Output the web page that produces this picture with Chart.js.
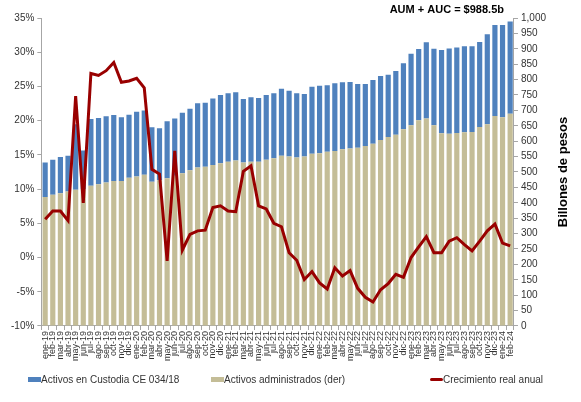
<!DOCTYPE html>
<html lang="es">
<head>
  <meta charset="UTF-8" />
  <title>AUM + AUC</title>
  <script src="https://cdn.jsdelivr.net/npm/chart.js"></script>
  <style>
    body {
      margin: 0;
      background: #fff;
      font-family: 'Liberation Sans', Arial, sans-serif;
    }
    .wrap {
      position: relative;
      width: 581px;
      height: 402px;
    }
    .legend {
      position: absolute;
      top: 374px;
      left: 0;
      width: 581px;
      font-size: 10px;
      color: #333;
    }
    .legend span {
      position: absolute;
      white-space: nowrap;
      line-height: 12px;
    }
    .legend i {
      display: inline-block;
      width: 13px;
      vertical-align: middle;
      margin-top: -2px;
    }
  </style>
</head>
<body>
  <div class="wrap">
    <canvas id="chart" width="581" height="402"></canvas>
    <div class="legend">
      <span style="left:28px"><i style="height:5px;background:#4F81BD"></i>Activos en Custodia CE 034/18</span>
      <span style="left:211px"><i style="height:5px;background:#C4BD97"></i>Activos administrados (der)</span>
      <span style="left:430px"><i style="height:3px;background:#990000;border-radius:2px"></i>Crecimiento real anual</span>
    </div>
  </div>

  <script>
    const labels = [
      'ene-19','feb-19','mar-19','abr-19','may-19','jun-19','jul-19','ago-19','sep-19','oct-19','nov-19','dic-19',
      'ene-20','feb-20','mar-20','abr-20','may-20','jun-20','jul-20','ago-20','sep-20','oct-20','nov-20','dic-20',
      'ene-21','feb-21','mar-21','abr-21','may-21','jun-21','jul-21','ago-21','sep-21','oct-21','nov-21','dic-21',
      'ene-22','feb-22','mar-22','abr-22','may-22','jun-22','jul-22','ago-22','sep-22','oct-22','nov-22','dic-22',
      'ene-23','feb-23','mar-23','abr-23','may-23','jun-23','jul-23','ago-23','sep-23','oct-23','nov-23','dic-23',
      'ene-24','feb-24'
    ];

    // billones de pesos
    const administrados = [
      419, 426, 431, 437, 442, 444, 455, 460, 466, 471, 471, 481,
      485, 491, 468, 473, 480, 488, 496, 506, 515, 517, 523, 528,
      533, 537, 531, 533, 533, 540, 545, 553, 550, 547, 550, 559,
      561, 566, 568, 574, 576, 579, 584, 592, 604, 614, 621, 639,
      652, 668, 674, 652, 626, 624, 627, 629, 630, 646, 655, 682,
      678, 689
    ];
    const custodia = [
      112, 114, 118, 116, 213, 126, 217, 215, 215, 214, 207, 205,
      211, 209, 177, 169, 185, 186, 196, 199, 208, 208, 216, 222,
      223, 222, 206, 210, 207, 210, 211, 217, 214, 209, 203, 218,
      219, 216, 220, 217, 216, 207, 202, 207, 208, 202, 207, 214,
      232, 231, 247, 248, 270, 277, 277, 279, 278, 276, 292, 295,
      299, 299.5
    ];
    // % real anual
    const crecimiento = [
      5.6, 6.8, 6.8, 5.4, 23.6, 8.0, 26.9, 26.6, 27.3, 28.5, 25.6, 25.8,
      26.2, 24.8, 12.9, 12.2, -0.5, 15.6, 1.1, 3.4, 3.9, 4.0, 7.3, 7.55,
      6.8, 6.7, 12.6, 13.4, 7.55, 7.1, 5.0, 4.5, 0.7, -0.4, -3.2, -2.05,
      -3.7, -4.6, -1.5, -2.7, -1.9, -4.5, -5.8, -6.5, -4.7, -3.8, -2.45, -2.9,
      0.0, 1.55, 3.05, 0.7, 0.7, 2.4, 2.9, 1.9, 0.97, 2.4, 3.9, 4.9,
      2.1, 1.7
    ];

    const TITLE = 'AUM + AUC = $988.5b';
    const RIGHT_TITLE = 'Billones de pesos';
    const FONT = "'Liberation Sans', Arial, sans-serif";
    const axisColor = '#a6a6a6';
    const textColor = '#333';

    // top note + right axis title (reads bottom to top, like the original)
    const textPlugin = {
      id: 'extraText',
      afterDraw(chart) {
        const ctx = chart.ctx;
        const area = chart.chartArea;
        ctx.save();
        ctx.font = 'bold 11px ' + FONT;
        ctx.fillStyle = '#000';
        ctx.textAlign = 'right';
        ctx.textBaseline = 'middle';
        ctx.fillText(TITLE, area.right - 10, 10);

        ctx.font = 'bold 13px ' + FONT;
        ctx.textAlign = 'center';
        ctx.translate(chart.width - 18, (area.top + area.bottom) / 2);
        ctx.rotate(-Math.PI / 2);
        ctx.fillText(RIGHT_TITLE, 0, 0);
        ctx.restore();
      }
    };

    new Chart(document.getElementById('chart'), {
      type: 'bar',
      data: {
        labels: labels,
        datasets: [
          {
            type: 'line',
            label: 'Crecimiento real anual',
            data: crecimiento,
            yAxisID: 'y',
            borderColor: '#990000',
            borderWidth: 3,
            pointRadius: 0,
            tension: 0,
            order: 0
          },
          {
            label: 'Activos administrados (der)',
            data: administrados,
            yAxisID: 'y1',
            backgroundColor: '#C4BD97',
            barPercentage: 0.68,
            categoryPercentage: 1,
            order: 1
          },
          {
            label: 'Activos en Custodia CE 034/18',
            data: custodia,
            yAxisID: 'y1',
            backgroundColor: '#4F81BD',
            barPercentage: 0.68,
            categoryPercentage: 1,
            order: 1
          }
        ]
      },
      options: {
        responsive: false,
        animation: false,
        layout: { padding: { top: 18, left: 8, right: 32, bottom: 40 } },
        plugins: {
          legend: { display: false },
          tooltip: { enabled: false }
        },
        scales: {
          x: {
            stacked: true,
            grid: { drawOnChartArea: false, color: axisColor, tickLength: 4 },
            border: { color: axisColor },
            ticks: {
              autoSkip: false,
              maxRotation: 90,
              minRotation: 90,
              padding: 1,
              color: textColor,
              font: { family: FONT, size: 9 }
            }
          },
          y: {
            position: 'left',
            min: -10,
            max: 35,
            grid: { drawOnChartArea: false, color: axisColor, tickLength: 4 },
            border: { color: axisColor },
            ticks: {
              stepSize: 5,
              color: textColor,
              font: { family: FONT, size: 10 },
              callback: v => v + '%'
            }
          },
          y1: {
            position: 'right',
            stacked: true,
            min: 0,
            max: 1000,
            grid: { drawOnChartArea: false, color: axisColor, tickLength: 4 },
            border: { color: axisColor },
            ticks: {
              stepSize: 50,
              color: textColor,
              font: { family: FONT, size: 10 },
              callback: v => v.toLocaleString('en-US')
            }
          }
        }
      },
      plugins: [textPlugin]
    });
  </script>
</body>
</html>
